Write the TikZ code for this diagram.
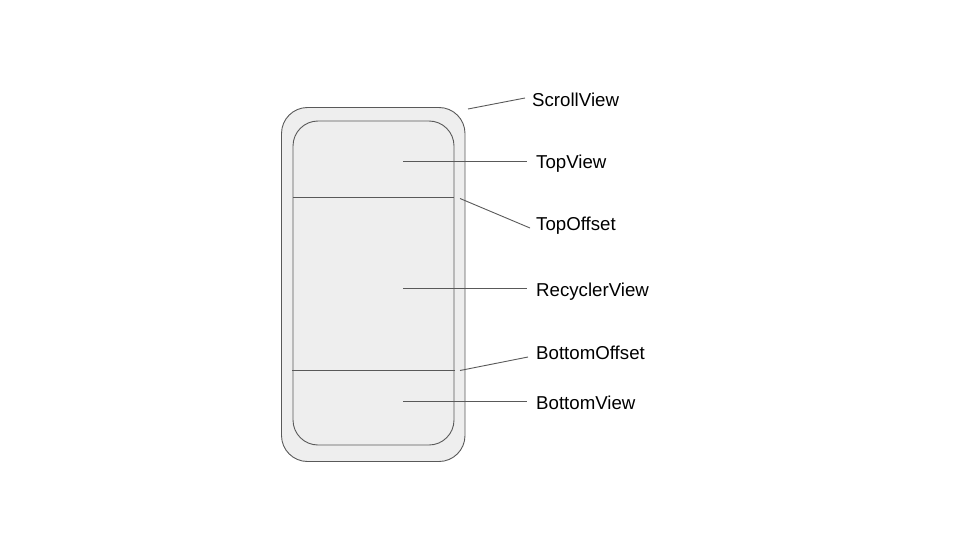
\documentclass[tikz,border=0pt]{standalone}
\usepackage{fontspec}
\setmainfont{Liberation Sans}
\usetikzlibrary{calc}
\definecolor{edge}{HTML}{595959}
\definecolor{panel}{HTML}{EEEEEE}
\begin{document}
\begin{tikzpicture}[x=1pt,y=-1pt,
  shell/.style={draw=edge,fill=panel,line width=0.9pt},
  divider/.style={draw=edge,line width=0.9pt},
  leader/.style={draw=edge,line width=0.9pt},
  tag/.style={anchor=base west,inner sep=0pt,font=\fontsize{18.67}{22}\selectfont,text=black}]
  \useasboundingbox (0,0) rectangle (960,540);
  % outer scroll container and inner content column
  \draw[shell,rounded corners=26pt] (281.5,107.5) rectangle (465,461.5);
  \draw[shell,rounded corners=25pt] (293,121) rectangle (454,445);
  % section dividers
  \coordinate (d1l) at (293,197.5);
  \coordinate (d1r) at (454,197.5);
  \coordinate (d2l) at (292,370.5);
  \coordinate (d2r) at (455,370.5);
  \draw[divider] (d1l) -- (d1r);
  \draw[divider] (d2l) -- (d2r);
  % labels, placed on their baselines
  \node[tag] (scroll) at (532,106.5) {ScrollView};
  \node[tag] (top) at (536,168.3) {TopView};
  \node[tag] (topoff) at (536,230.7) {TopOffset};
  \node[tag] (recycler) at (536,296.3) {RecyclerView};
  \node[tag] (botoff) at (536,359.5) {BottomOffset};
  \node[tag] (bottom) at (536,409.5) {BottomView};
  % leader line anchors
  \coordinate (pScroll) at (468,109);
  \coordinate (pTop) at (403,161.5);
  \coordinate (pTopOff) at (460,198.5);
  \coordinate (pRec) at (403,288.5);
  \coordinate (pBotOff) at (460,370.5);
  \coordinate (pBot) at (403,401.5);
  \draw[leader] (pScroll) -- ($(scroll.base west)+(-7,-8.5)$);
  \draw[leader] (pTop) -- ($(top.base west)+(-9,-6.8)$);
  \draw[leader] (pTopOff) -- ($(topoff.base west)+(-6,-2.7)$);
  \draw[leader] (pRec) -- ($(recycler.base west)+(-9,-7.8)$);
  \draw[leader] (pBotOff) -- ($(botoff.base west)+(-8,-2.5)$);
  \draw[leader] (pBot) -- ($(bottom.base west)+(-9,-8)$);
\end{tikzpicture}
\end{document}
